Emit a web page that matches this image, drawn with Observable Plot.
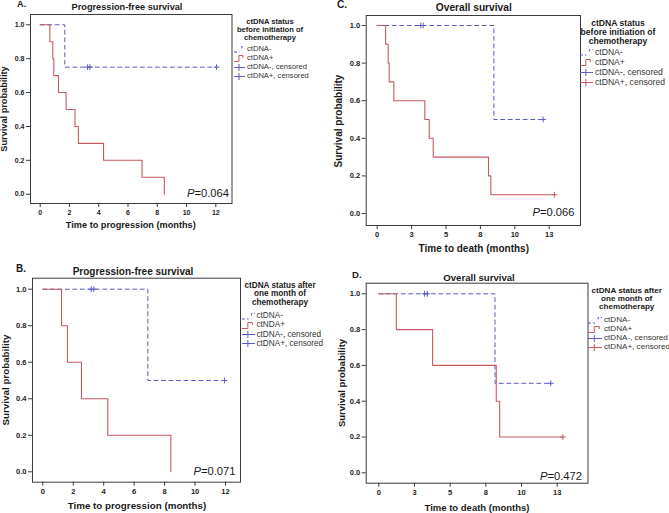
<!DOCTYPE html>
<html><head><meta charset="utf-8">
<script src="https://cdn.jsdelivr.net/npm/d3@7"></script>
<script src="https://cdn.jsdelivr.net/npm/@observablehq/plot@0.6"></script>
<style>
body{margin:0;background:#fff;}
#root{position:relative;width:669px;height:513px;overflow:hidden;font-family:"Liberation Sans",Arial,sans-serif;color:#1a1a1a;background:#fff;}
.abs{position:absolute;white-space:nowrap;line-height:1;}
#root svg{position:absolute;overflow:visible;}
#root svg g[aria-label="x-axis tick label"] text,#root svg g[aria-label="y-axis tick label"] text{font-weight:bold;}
</style></head><body><div id="root"></div>
<script>
// ---------- data ----------
const ticksPFS = [0, 2, 4, 6, 8, 10, 12];
const tickLabelsPFS = ["0", "2", "4", "6", "8", "10", "12"];
const ticksOS = [0, 2.5, 5, 7.5, 10, 12.5];
const tickLabelsOS = ["0", "3", "5", "8", "10", "13"];
const yTicks = [0, 0.2, 0.4, 0.6, 0.8, 1.0];

// Panel A: PFS, ctDNA status before chemotherapy
const aNegTime = [0, 1.68, 12.05];
const aNegSurv = [1, 0.75, 0.75];
const aNegCensTime = [3.24, 3.40, 12.05];
const aNegCensSurv = [0.75, 0.75, 0.75];
const aPosTime = [0, 0.66, 0.86, 0.93, 1.25, 1.77, 2.38, 2.61, 4.33, 6.96, 8.48];
const aPosSurv = [1, 0.9, 0.8, 0.7, 0.6, 0.5, 0.4, 0.3, 0.2, 0.1, 0.0];
const aPosCensTime = [];
const aPosCensSurv = [];

// Panel B: PFS, ctDNA status after one month
const bNegTime = [0, 6.90, 11.93];
const bNegSurv = [1, 0.5, 0.5];
const bNegCensTime = [3.18, 3.35, 11.93];
const bNegCensSurv = [1, 1, 0.5];
const bPosTime = [0, 1.23, 1.62, 2.54, 4.27, 8.41];
const bPosSurv = [1, 0.8, 0.6, 0.4, 0.2, 0.0];
const bPosCensTime = [];
const bPosCensSurv = [];

// Panel C: OS, ctDNA status before chemotherapy
const cNegTime = [0, 8.48, 12.06];
const cNegSurv = [1, 0.5, 0.5];
const cNegCensTime = [3.17, 3.34, 12.06];
const cNegCensSurv = [1, 1, 0.5];
const cPosTime = [0, 0.61, 0.80, 0.87, 1.21, 3.46, 3.78, 4.07, 8.09, 8.26, 12.89];
const cPosSurv = [1, 0.9, 0.8, 0.7, 0.6, 0.5, 0.4, 0.3, 0.2, 0.1, 0.1];
const cPosCensTime = [12.89];
const cPosCensSurv = [0.1];

// Panel D: OS, ctDNA status after one month
const dNegTime = [0, 8.14, 12.05];
const dNegSurv = [1, 0.5, 0.5];
const dNegCensTime = [3.21, 3.40, 12.05];
const dNegCensSurv = [1, 1, 0.5];
const dPosTime = [0, 1.23, 3.77, 8.23, 8.47, 12.9];
const dPosSurv = [1, 0.8, 0.6, 0.4, 0.2, 0.2];
const dPosCensTime = [12.9];
const dPosCensSurv = [0.2];

const legendTitleBefore = ["ctDNA status", "before initiation of", "chemotherapy"];
const legendTitleAfter = ["ctDNA status after", "one month of", "chemotherapy"];
const legendItemsStd = ["ctDNA-", "ctDNA+", "ctDNA-, censored", "ctDNA+, censored"];
const legendItemsB = ["ctDNA-", "ctNDA+", "ctDNA-, censored", "ctDNA+, censored"];

// ---------- styles ----------
const RED = "#c65a62";
const BLUE = "#5a5cc0";
const AXIS = "#3a3a3a";

const zip = (t, s) => t.map((x, i) => ({t: x, s: s[i]}));

const panels = [
  {letter: "A.", title: "Progression-free survival", xTitle: "Time to progression (months)", p: "0.064",
   box: [0, 0, 335, 255], frame: [30, 231.5, 14, 203], xa: [0, 39.7, 12, 215.3], ya: [0, 193.7, 1, 24.3],
   ticks: ticksPFS, labels: tickLabelsPFS,
   neg: zip(aNegTime, aNegSurv), negC: zip(aNegCensTime, aNegCensSurv), pos: zip(aPosTime, aPosSurv), posC: zip(aPosCensTime, aPosCensSurv),
   fsT: 9.2, fsX: 9.2, fsL: 7.6, fsTick: 7, letterPos: [17, 4.5], titlePos: [127, 8.3], xTitlePos: [130.8, 225.5], yTitlePos: [5, 109],
   pPos: [229, 194], legTitle: legendTitleBefore, legCx: 270, legTy: 22.3, legTs: 7.8, items: legendItemsStd, legIy: 49, legIs: 9, swX: 234, swW: 11, txX: 247, censColors: [BLUE, BLUE]},
  {letter: "B.", title: "Progression-free survival", xTitle: "Time to progression (months)", p: "0.071",
   box: [0, 255, 335, 258], frame: [32, 240, 277.7, 481.7], xa: [0, 42.3, 12, 225], ya: [0, 471.3, 1, 288.7],
   ticks: ticksPFS, labels: tickLabelsPFS,
   neg: zip(bNegTime, bNegSurv), negC: zip(bNegCensTime, bNegCensSurv), pos: zip(bPosTime, bPosSurv), posC: zip(bPosCensTime, bPosCensSurv),
   fsT: 10, fsX: 9.8, fsL: 8.2, fsTick: 7.5, letterPos: [16, 269], titlePos: [133, 272], xTitlePos: [137, 505.5], yTitlePos: [6, 380],
   pPos: [235.5, 472], legTitle: legendTitleAfter, legCx: 280, legTy: 286, legTs: 8.3, items: legendItemsB, legIy: 316, legIs: 9.3, swX: 242, swW: 13, txX: 256.5, censColors: [BLUE, BLUE]},
  {letter: "C.", title: "Overall survival", xTitle: "Time to death (months)", p: "0.066",
   box: [335, 0, 334, 255], frame: [365.7, 580, 15, 225], xa: [0, 376.7, 12.5, 548.7], ya: [0, 213, 1, 25],
   ticks: ticksOS, labels: tickLabelsOS,
   neg: zip(cNegTime, cNegSurv), negC: zip(cNegCensTime, cNegCensSurv), pos: zip(cPosTime, cPosSurv), posC: zip(cPosCensTime, cPosCensSurv),
   fsT: 10.2, fsX: 10, fsL: 8.6, fsTick: 7.5, letterPos: [337, 5], titlePos: [473.8, 7.8], xTitlePos: [473.8, 248.7], yTitlePos: [339, 121],
   pPos: [574.5, 212.5], legTitle: legendTitleBefore, legCx: 618, legTy: 23.3, legTs: 8.7, items: legendItemsStd, legIy: 52.3, legIs: 10, swX: 580, swW: 13, txX: 595, censColors: [BLUE, RED]},
  {letter: "D.", title: "Overall survival", xTitle: "Time to death (months)", p: "0.472",
   box: [335, 255, 334, 258], frame: [365.7, 587.5, 282.7, 482.7], xa: [0, 378.3, 12.5, 556.7], ya: [0, 472.3, 1, 293.3],
   ticks: ticksOS, labels: tickLabelsOS,
   neg: zip(dNegTime, dNegSurv), negC: zip(dNegCensTime, dNegCensSurv), pos: zip(dPosTime, dPosSurv), posC: zip(dPosCensTime, dPosCensSurv),
   fsT: 9.6, fsX: 9.5, fsL: 8.1, fsTick: 7.5, letterPos: [352, 275], titlePos: [479, 278], xTitlePos: [477, 508], yTitlePos: [341.7, 382.5],
   pPos: [582, 477], legTitle: legendTitleAfter, legCx: 626.7, legTy: 291, legTs: 8.2, items: legendItemsStd, legIy: 320, legIs: 9, swX: 587.5, swW: 14, txX: 604, censColors: [BLUE, RED]}
];

const root = document.getElementById("root");

function addText(html, x, y, opts) {
  const d = document.createElement("div");
  d.className = "abs";
  d.innerHTML = html;
  d.style.left = x + "px";
  d.style.top = y + "px";
  d.style.fontSize = opts.size + "px";
  if (opts.bold) d.style.fontWeight = "bold";
  if (opts.color) d.style.color = opts.color;
  d.style.transform = opts.transform || "translate(0,-50%)";
  root.appendChild(d);
  return d;
}

function invert(a, p) { // a = [v0, p0, v1, p1]
  return a[0] + (p - a[1]) * (a[2] - a[0]) / (a[3] - a[1]);
}

function swatch(kind, color, w, x, y) {
  const ns = "http://www.w3.org/2000/svg";
  const s = document.createElementNS(ns, "svg");
  s.setAttribute("width", w); s.setAttribute("height", 9);
  s.style.left = x + "px"; s.style.top = (y - 4.5) + "px";
  const path = document.createElementNS(ns, "path");
  let d;
  if (kind === "neg") { d = `M0,7 H${w*0.5} M${w*0.72},3.5 V1.5 H${w}`; }
  else if (kind === "pos") { d = `M0,7.5 H${w*0.45} V1.5 H${w*0.8} V4`; }
  else { d = `M0,4.5 H${w} M${w*0.45},1 V8`; }
  path.setAttribute("d", d);
  path.setAttribute("fill", "none");
  path.setAttribute("stroke", color);
  path.setAttribute("stroke-width", 1);
  if (kind === "neg") path.setAttribute("stroke-dasharray", "3,2");
  s.appendChild(path);
  root.appendChild(s);
}

for (const P of panels) {
  const [bx, by, bw, bh] = P.box;
  const [fL, fR, fT, fB] = P.frame;
  const xDom = [invert(P.xa, fL), invert(P.xa, fR)];
  const yDom = [invert(P.ya, fB), invert(P.ya, fT)];
  const chart = Plot.plot({
    width: bw, height: bh,
    marginLeft: fL - bx, marginRight: bx + bw - fR,
    marginTop: fT - by, marginBottom: by + bh - fB,
    x: {domain: xDom},
    y: {domain: yDom},
    style: {fontFamily: '"Liberation Sans", Arial, sans-serif', fontSize: P.fsTick + "px", color: "#222", background: "transparent"},
    marks: [
      Plot.frame({stroke: AXIS, strokeWidth: 1}),
      Plot.axisX({ticks: P.ticks, tickFormat: d => P.labels[P.ticks.indexOf(d)], tickSize: 4, tickPadding: 2.5, label: null, stroke: AXIS}),
      Plot.axisY({ticks: yTicks, tickFormat: d3.format(".1f"), tickSize: 4, tickPadding: 2, label: null, stroke: AXIS}),
      Plot.line(P.neg, {x: "t", y: "s", curve: "step-after", stroke: BLUE, strokeWidth: 1, strokeDasharray: "4,3.5"}),
      Plot.line(P.pos, {x: "t", y: "s", curve: "step-after", stroke: RED, strokeWidth: 1.1}),
      Plot.dot(P.negC, {x: "t", y: "s", symbol: "plus", r: 2, stroke: BLUE, strokeWidth: 1}),
      Plot.dot(P.posC, {x: "t", y: "s", symbol: "plus", r: 2, stroke: RED, strokeWidth: 1})
    ]
  });
  chart.style.left = bx + "px";
  chart.style.top = by + "px";
  root.appendChild(chart);

  addText(P.letter, P.letterPos[0], P.letterPos[1], {size: P.fsT, bold: true});
  addText(P.title, P.titlePos[0], P.titlePos[1], {size: P.fsT, bold: true, transform: "translate(-50%,-50%)"});
  addText(P.xTitle, P.xTitlePos[0], P.xTitlePos[1], {size: P.fsX, bold: true, transform: "translate(-50%,-50%)"});
  addText("Survival probability", P.yTitlePos[0], P.yTitlePos[1], {size: P.fsX, bold: true, transform: "translate(-50%,-50%) rotate(-90deg)"});
  addText("<i>P</i>=" + P.p, P.pPos[0], P.pPos[1], {size: 11.2, transform: "translate(-100%,-50%)"});

  P.legTitle.forEach((line, i) => {
    addText(line, P.legCx, P.legTy + i * P.legTs, {size: P.fsL, bold: true, transform: "translate(-50%,-50%)"});
  });
  const kinds = ["neg", "pos", "cens", "cens"];
  const colors = [BLUE, RED, P.censColors[0], P.censColors[1]];
  P.items.forEach((item, i) => {
    const y = P.legIy + i * P.legIs;
    swatch(kinds[i], colors[i], P.swW, P.swX, y);
    addText(item, P.txX, y, {size: P.fsL, color: "#333"});
  });
}
</script></body></html>
